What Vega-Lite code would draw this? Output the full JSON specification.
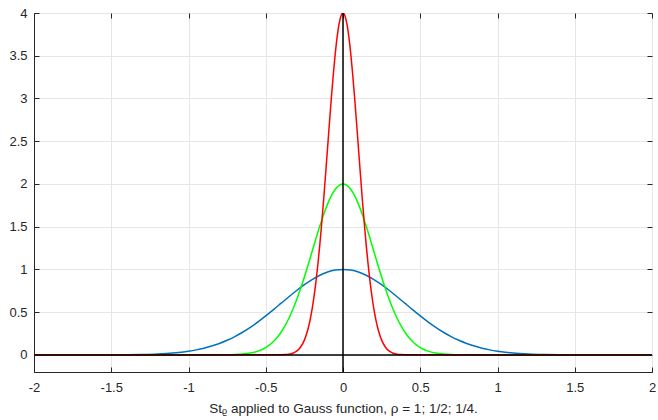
{
  "$schema": "https://vega.github.io/schema/vega-lite/v6.json",
  "width": 618,
  "height": 359,
  "autosize": "none",
  "padding": {"left": 34, "top": 13, "right": 6, "bottom": 48},
  "background": "white",
  "config": {
    "view": {"stroke": "#262626", "strokeWidth": 1},
    "axis": {"labelFont": "Liberation Sans", "titleFont": "Liberation Sans", "labelFontSize": 13, "titleFontSize": 13.5, "labelColor": "#262626", "titleColor": "#262626", "gridColor": "#e6e6e6", "gridOpacity": 1, "domainColor": "#262626", "tickColor": "#262626", "titleFontWeight": "normal"}
  },
  "datasets": {
    "curves": [
      {"c":"b","x":-2,"y":0},{"c":"b","x":-1.7,"y":0.00011},{"c":"b","x":-1.5,"y":0.00085},{"c":"b","x":-1.4,"y":0.00212},{"c":"b","x":-1.3,"y":0.00494},{"c":"b","x":-1.2,"y":0.01085},{"c":"b","x":-1.1,"y":0.02234},{"c":"b","x":-1,"y":0.04321},{"c":"b","x":-0.95,"y":0.05872},{"c":"b","x":-0.9,"y":0.07852},{"c":"b","x":-0.85,"y":0.10334},{"c":"b","x":-0.8,"y":0.13392},{"c":"b","x":-0.75,"y":0.17081},{"c":"b","x":-0.7,"y":0.21451},{"c":"b","x":-0.65,"y":0.26519},{"c":"b","x":-0.6,"y":0.32272},{"c":"b","x":-0.55,"y":0.38662},{"c":"b","x":-0.5,"y":0.45594},{"c":"b","x":-0.45,"y":0.5293},{"c":"b","x":-0.4,"y":0.6049},{"c":"b","x":-0.35,"y":0.68058},{"c":"b","x":-0.3,"y":0.75368},{"c":"b","x":-0.25,"y":0.82172},{"c":"b","x":-0.2,"y":0.88191},{"c":"b","x":-0.15,"y":0.93176},{"c":"b","x":-0.1,"y":0.96907},{"c":"b","x":-0.05,"y":0.99218},{"c":"b","x":0,"y":1},
      {"c":"b","x":0.05,"y":0.99218},{"c":"b","x":0.1,"y":0.96907},{"c":"b","x":0.15,"y":0.93176},{"c":"b","x":0.2,"y":0.88191},{"c":"b","x":0.25,"y":0.82172},{"c":"b","x":0.3,"y":0.75368},{"c":"b","x":0.35,"y":0.68058},{"c":"b","x":0.4,"y":0.6049},{"c":"b","x":0.45,"y":0.5293},{"c":"b","x":0.5,"y":0.45594},{"c":"b","x":0.55,"y":0.38662},{"c":"b","x":0.6,"y":0.32272},{"c":"b","x":0.65,"y":0.26519},{"c":"b","x":0.7,"y":0.21451},{"c":"b","x":0.75,"y":0.17081},{"c":"b","x":0.8,"y":0.13392},{"c":"b","x":0.85,"y":0.10334},{"c":"b","x":0.9,"y":0.07852},{"c":"b","x":0.95,"y":0.05872},{"c":"b","x":1,"y":0.04321},{"c":"b","x":1.1,"y":0.02234},{"c":"b","x":1.2,"y":0.01085},{"c":"b","x":1.3,"y":0.00494},{"c":"b","x":1.4,"y":0.00212},{"c":"b","x":1.5,"y":0.00085},{"c":"b","x":1.7,"y":0.00011},{"c":"b","x":2,"y":0},
      {"c":"g","x":-2,"y":0},{"c":"g","x":-0.85,"y":0.0002},{"c":"g","x":-0.75,"y":0.0017},{"c":"g","x":-0.7,"y":0.00424},{"c":"g","x":-0.65,"y":0.00988},{"c":"g","x":-0.6,"y":0.0217},{"c":"g","x":-0.55,"y":0.04468},{"c":"g","x":-0.5,"y":0.08642},{"c":"g","x":-0.475,"y":0.11744},{"c":"g","x":-0.45,"y":0.15704},{"c":"g","x":-0.425,"y":0.20668},{"c":"g","x":-0.4,"y":0.26784},{"c":"g","x":-0.375,"y":0.34162},{"c":"g","x":-0.35,"y":0.42902},{"c":"g","x":-0.325,"y":0.53038},{"c":"g","x":-0.3,"y":0.64544},{"c":"g","x":-0.275,"y":0.77324},{"c":"g","x":-0.25,"y":0.91188},{"c":"g","x":-0.225,"y":1.0586},{"c":"g","x":-0.2,"y":1.2098},{"c":"g","x":-0.175,"y":1.36116},{"c":"g","x":-0.15,"y":1.50736},{"c":"g","x":-0.125,"y":1.64344},{"c":"g","x":-0.1,"y":1.76382},{"c":"g","x":-0.075,"y":1.86352},{"c":"g","x":-0.05,"y":1.93814},{"c":"g","x":-0.025,"y":1.98436},{"c":"g","x":0,"y":2},
      {"c":"g","x":0.025,"y":1.98436},{"c":"g","x":0.05,"y":1.93814},{"c":"g","x":0.075,"y":1.86352},{"c":"g","x":0.1,"y":1.76382},{"c":"g","x":0.125,"y":1.64344},{"c":"g","x":0.15,"y":1.50736},{"c":"g","x":0.175,"y":1.36116},{"c":"g","x":0.2,"y":1.2098},{"c":"g","x":0.225,"y":1.0586},{"c":"g","x":0.25,"y":0.91188},{"c":"g","x":0.275,"y":0.77324},{"c":"g","x":0.3,"y":0.64544},{"c":"g","x":0.325,"y":0.53038},{"c":"g","x":0.35,"y":0.42902},{"c":"g","x":0.375,"y":0.34162},{"c":"g","x":0.4,"y":0.26784},{"c":"g","x":0.425,"y":0.20668},{"c":"g","x":0.45,"y":0.15704},{"c":"g","x":0.475,"y":0.11744},{"c":"g","x":0.5,"y":0.08642},{"c":"g","x":0.55,"y":0.04468},{"c":"g","x":0.6,"y":0.0217},{"c":"g","x":0.65,"y":0.00988},{"c":"g","x":0.7,"y":0.00424},{"c":"g","x":0.75,"y":0.0017},{"c":"g","x":0.85,"y":0.0002},{"c":"g","x":2,"y":0},
      {"c":"r","x":-2,"y":0},{"c":"r","x":-0.425,"y":0.00044},{"c":"r","x":-0.375,"y":0.0034},{"c":"r","x":-0.35,"y":0.00848},{"c":"r","x":-0.325,"y":0.01976},{"c":"r","x":-0.3,"y":0.0434},{"c":"r","x":-0.275,"y":0.08936},{"c":"r","x":-0.25,"y":0.17284},{"c":"r","x":-0.2375,"y":0.23488},{"c":"r","x":-0.225,"y":0.31408},{"c":"r","x":-0.2125,"y":0.41336},{"c":"r","x":-0.2,"y":0.53568},{"c":"r","x":-0.1875,"y":0.68324},{"c":"r","x":-0.175,"y":0.85804},{"c":"r","x":-0.1625,"y":1.06076},{"c":"r","x":-0.15,"y":1.29088},{"c":"r","x":-0.1375,"y":1.54648},{"c":"r","x":-0.125,"y":1.82376},{"c":"r","x":-0.1125,"y":2.1172},{"c":"r","x":-0.1,"y":2.4196},{"c":"r","x":-0.0875,"y":2.72232},{"c":"r","x":-0.075,"y":3.01472},{"c":"r","x":-0.0625,"y":3.28688},{"c":"r","x":-0.05,"y":3.52764},{"c":"r","x":-0.0375,"y":3.72704},{"c":"r","x":-0.025,"y":3.87628},{"c":"r","x":-0.0125,"y":3.96872},{"c":"r","x":0,"y":4},
      {"c":"r","x":0.0125,"y":3.96872},{"c":"r","x":0.025,"y":3.87628},{"c":"r","x":0.0375,"y":3.72704},{"c":"r","x":0.05,"y":3.52764},{"c":"r","x":0.0625,"y":3.28688},{"c":"r","x":0.075,"y":3.01472},{"c":"r","x":0.0875,"y":2.72232},{"c":"r","x":0.1,"y":2.4196},{"c":"r","x":0.1125,"y":2.1172},{"c":"r","x":0.125,"y":1.82376},{"c":"r","x":0.1375,"y":1.54648},{"c":"r","x":0.15,"y":1.29088},{"c":"r","x":0.1625,"y":1.06076},{"c":"r","x":0.175,"y":0.85804},{"c":"r","x":0.1875,"y":0.68324},{"c":"r","x":0.2,"y":0.53568},{"c":"r","x":0.2125,"y":0.41336},{"c":"r","x":0.225,"y":0.31408},{"c":"r","x":0.2375,"y":0.23488},{"c":"r","x":0.25,"y":0.17284},{"c":"r","x":0.275,"y":0.08936},{"c":"r","x":0.3,"y":0.0434},{"c":"r","x":0.325,"y":0.01976},{"c":"r","x":0.35,"y":0.00848},{"c":"r","x":0.375,"y":0.0034},{"c":"r","x":0.425,"y":0.00044},{"c":"r","x":2,"y":0}
    ],
    "axes": [
      {"k":"h","x1":-2,"x2":2,"y1":0,"y2":0},
      {"k":"v","x1":0,"x2":0,"y1":-0.2,"y2":4}
    ]
  },
  "layer": [
    {
      "data": {"name": "curves"},
      "mark": {"type": "line", "strokeWidth": 1.5, "interpolate": "monotone", "clip": true},
      "encoding": {
        "x": {"field": "x", "type": "quantitative", "scale": {"domain": [-2, 2], "nice": false, "zero": false},
          "axis": {"orient": "bottom", "values": [-2,-1.5,-1,-0.5,0,0.5,1,1.5,2], "labelExpr": "datum.value", "tickSize": -5, "labelPadding": 14, "title": "Stᵨ applied to Gauss function, ρ = 1; 1/2; 1/4.", "titlePadding": 7, "grid": true, "labelFlush": false}},
        "y": {"field": "y", "type": "quantitative", "scale": {"domain": [-0.2, 4], "nice": false, "zero": false},
          "axis": {"orient": "left", "values": [0,0.5,1,1.5,2,2.5,3,3.5,4], "labelExpr": "datum.value", "tickSize": -5, "labelPadding": 12, "title": null, "grid": true, "labelFlush": false}},
        "color": {"field": "c", "type": "nominal", "scale": {"domain": ["b","g","r"], "range": ["#0072BD","#00FF00","#FF0000"]}, "legend": null}
      }
    },
    {
      "data": {"name": "axes"},
      "mark": {"type": "rule", "color": "black", "strokeWidth": 1.5},
      "encoding": {
        "x": {"field": "x1", "type": "quantitative", "axis": {"orient": "top", "values": [-2,-1.5,-1,-0.5,0,0.5,1,1.5,2], "labels": false, "tickSize": -5, "title": null, "grid": false, "domain": false}},
        "x2": {"field": "x2"},
        "y": {"field": "y1", "type": "quantitative", "axis": {"orient": "right", "values": [0,0.5,1,1.5,2,2.5,3,3.5,4], "labels": false, "tickSize": -5, "title": null, "grid": false, "domain": false}},
        "y2": {"field": "y2"}
      }
    }
  ],
  "resolve": {"axis": {"x": "independent", "y": "independent"}}
}
